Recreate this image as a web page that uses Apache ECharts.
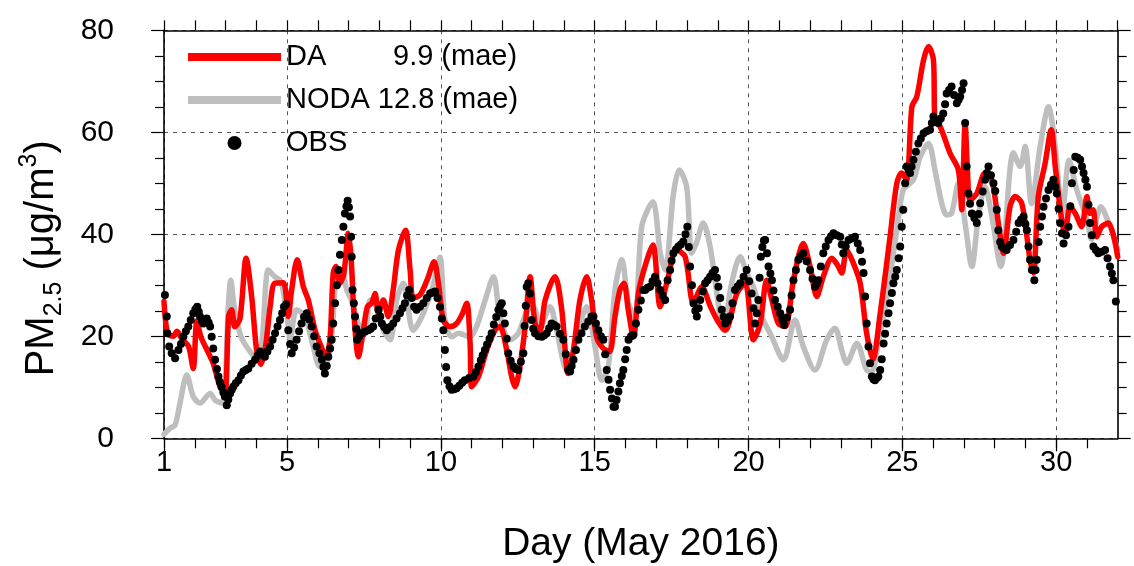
<!DOCTYPE html>
<html><head><meta charset="utf-8">
<script src="https://cdn.jsdelivr.net/npm/echarts@6/dist/echarts.min.js"></script>
<style>html,body{margin:0;padding:0;background:#fff}#c{width:1134px;height:566px}</style>
</head><body><div id="c"></div>
<script>
// ---- data: [day of May 2016, PM2.5 ug/m3] ----
const daData = [[1.00,26.8],[1.12,20.5],[1.30,20],[1.42,21],[1.60,19.3],[1.80,18],[1.95,13.7],[2.07,23],[2.20,19.9],[2.40,17.3],[2.60,14.7],[2.82,10.1],[2.98,8.8],[3.10,23.9],[3.20,25.2],[3.30,21.9],[3.47,23.5],[3.67,35.3],[3.85,27.8],[4.01,17.3],[4.15,14.5],[4.30,18],[4.45,25.8],[4.60,30.4],[4.88,30.5],[5.04,23.9],[5.15,29.1],[5.33,35],[5.53,29.7],[5.69,27.1],[5.91,21.2],[6.07,18.6],[6.27,16],[6.40,19.9],[6.50,32.4],[6.59,33.7],[6.72,30.4],[6.85,32.4],[6.99,40.2],[7.08,35.6],[7.18,23.9],[7.32,16],[7.48,21.2],[7.61,25.8],[7.75,26.5],[7.86,28.4],[7.97,24.5],[8.13,27.1],[8.29,23.9],[8.45,29.1],[8.62,36.9],[8.85,40.8],[9.00,33],[9.10,27.5],[9.32,28.1],[9.55,31],[9.78,34.6],[9.92,30.4],[10.08,23.2],[10.30,21.9],[10.51,22.5],[10.68,24.2],[10.84,26.5],[10.95,18.6],[11.00,10.1],[11.22,12.1],[11.49,17.3],[11.76,21.2],[11.92,21.9],[12.14,17.3],[12.30,12.1],[12.41,10.1],[12.57,14.1],[12.74,21.9],[12.90,31.7],[13.06,22.5],[13.22,21.2],[13.39,27.1],[13.71,31.7],[13.93,25.2],[14.14,12.7],[14.31,17.3],[14.52,27.1],[14.74,31.7],[14.90,27.1],[15.06,19.9],[15.28,17.6],[15.48,17],[15.66,23.9],[15.82,29.1],[15.95,30.4],[16.09,25.2],[16.26,19.9],[16.42,28.4],[16.60,33],[16.89,37.9],[17.13,25.8],[17.34,30.4],[17.67,36.9],[17.94,35.6],[18.21,26.5],[18.48,29.7],[18.75,26],[19.00,23],[19.24,21.2],[19.62,28.4],[19.89,30.4],[20.16,19.3],[20.38,22.5],[20.59,31],[20.76,27.1],[20.97,22.5],[21.19,21.9],[21.46,31],[21.78,38.2],[22.00,33.7],[22.22,27.8],[22.43,31.7],[22.71,35.3],[22.92,33.7],[23.03,32.4],[23.19,36.9],[23.41,34.3],[23.63,30.4],[23.84,20.6],[24.04,15.5],[24.28,24.5],[24.60,39.5],[24.82,50],[24.98,52],[25.14,50.7],[25.31,65],[25.47,67],[25.69,74.2],[25.85,76.8],[26.01,74.2],[26.06,62.4],[26.23,61.1],[26.55,55.9],[26.82,52.6],[26.93,44.8],[27.04,61.8],[27.12,52],[27.20,46.7],[27.42,48],[27.69,52],[27.91,50.7],[28.12,42.2],[28.29,36.3],[28.50,45.4],[28.67,47.4],[28.88,46.1],[29.05,39.5],[29.15,35],[29.26,32.4],[29.42,47.4],[29.64,53.9],[29.84,60.5],[29.97,53.3],[30.18,42.8],[30.29,40.2],[30.45,45.4],[30.62,44.1],[30.83,41.5],[31.00,47.4],[31.10,44.1],[31.20,44.8],[31.32,39.5],[31.48,41.5],[31.70,42.2],[32.00,35.6]];

const nodaData = [[1.00,0.8],[1.20,2],[1.36,2.6],[1.52,6.9],[1.74,12.4],[1.95,8.2],[2.17,6.9],[2.50,8.8],[2.66,7.5],[2.87,6.9],[2.98,9.5],[3.09,25.8],[3.17,31],[3.28,25.8],[3.50,20],[3.80,17],[4.05,15.5],[4.20,20],[4.39,33],[4.60,31.7],[4.80,30.8],[5.00,24],[5.10,19.5],[5.31,25.2],[5.58,23.9],[5.85,18],[6.07,14.1],[6.29,14.7],[6.45,19.9],[6.61,32.4],[6.77,33],[6.94,29.1],[7.10,27],[7.32,22.5],[7.53,21.2],[7.70,27.1],[7.91,25.8],[8.13,21.2],[8.35,19.3],[8.56,27.1],[8.78,30.4],[9.10,21.2],[9.43,24.5],[9.75,30],[9.97,35.5],[10.13,23.2],[10.35,19.9],[10.57,20.6],[10.95,19.9],[11.16,21.9],[11.44,27.1],[11.71,31.7],[11.92,23.9],[12.25,19.3],[12.52,20.6],[12.80,25],[13.01,25.8],[13.22,21.9],[13.55,25.8],[13.76,21.2],[14.09,13.4],[14.42,19.9],[14.74,25.8],[15.01,18],[15.23,11.4],[15.44,14],[15.66,29.1],[15.88,35],[16.10,26.5],[16.31,23.9],[16.53,41.5],[16.89,46.4],[17.13,36.3],[17.29,33],[17.56,48],[17.75,52.6],[17.99,49.3],[18.15,36.3],[18.30,38.2],[18.53,42.2],[18.75,37.6],[18.97,28.4],[19.18,21.2],[19.45,30.4],[19.73,35.6],[19.94,32.4],[20.16,29.7],[20.48,23.2],[20.75,20],[21.00,16.5],[21.14,15.4],[21.51,23.2],[21.78,18],[22.16,13.4],[22.54,19.3],[22.81,21.6],[23.03,17.3],[23.19,14.7],[23.52,18.6],[23.84,13.4],[24.00,13],[24.20,18],[24.50,28],[24.82,40.8],[25.03,48.7],[25.36,50.7],[25.58,55.2],[25.85,57.8],[26.06,52.6],[26.28,46.1],[26.44,43.8],[26.60,44.1],[26.82,50],[27.04,42.2],[27.26,33.7],[27.47,43.5],[27.69,49.3],[27.91,43.5],[28.20,33.7],[28.61,56],[28.83,53.3],[28.99,57.2],[29.20,46],[29.48,57.2],[29.75,65],[29.97,57.2],[30.20,44],[30.42,54.5],[30.67,48.7],[31.00,42.8],[31.15,39],[31.45,45.4],[31.75,41.5],[32.00,37]];

const obsData = [[1.03,28.1],[1.09,23.9],[1.11,20.6],[1.17,18],[1.25,16.7],[1.36,15.7],[1.47,17.3],[1.55,18.5],[1.63,19.9],[1.71,21],[1.79,21.9],[1.87,23.2],[1.95,24.5],[2.02,25.3],[2.08,25.8],[2.13,24.8],[2.17,23.9],[2.23,23],[2.28,22.5],[2.34,23.2],[2.39,23.5],[2.45,22.7],[2.50,21.9],[2.55,19.9],[2.60,17.6],[2.66,15.4],[2.72,13.6],[2.77,12.1],[2.82,11],[2.87,10.1],[2.93,9],[2.98,8.2],[3.04,6.5],[3.09,7.6],[3.15,8.8],[3.20,9.5],[3.25,10.1],[3.33,10.8],[3.42,11.4],[3.50,12.3],[3.58,13.1],[3.66,13.4],[3.74,13.7],[3.85,14.6],[3.96,15.4],[4.04,16.2],[4.12,17],[4.20,16.5],[4.28,16],[4.36,17],[4.45,18],[4.53,19.3],[4.61,20.6],[4.69,21.9],[4.77,23.2],[4.84,24.5],[4.90,25.8],[4.97,26.3],[5.04,21.2],[5.10,18.5],[5.15,16.7],[5.23,17.8],[5.31,19.3],[5.39,21],[5.47,22.5],[5.55,23.8],[5.64,24.5],[5.72,23.3],[5.80,21.9],[5.88,20],[5.96,18],[6.05,16.7],[6.13,15.4],[6.18,14],[6.23,12.7],[6.29,14.2],[6.34,16],[6.40,17.6],[6.45,19.3],[6.50,22.5],[6.56,26.5],[6.62,30],[6.67,33],[6.72,36],[6.78,38.9],[6.83,41.5],[6.88,44.1],[6.93,45.5],[6.97,46.6],[7.01,45.3],[7.05,43.5],[7.08,39.5],[7.10,35.6],[7.13,29.1],[7.17,26.5],[7.21,23.9],[7.25,21.5],[7.28,19.3],[7.35,20],[7.42,20.6],[7.53,20.9],[7.64,21.2],[7.72,21.5],[7.80,21.9],[7.88,23.5],[7.97,25.2],[8.03,23.9],[8.08,22.5],[8.16,21.8],[8.24,21.2],[8.35,21.8],[8.45,22.5],[8.56,23.5],[8.67,24.5],[8.75,25.5],[8.83,26.5],[8.90,28],[8.97,29.1],[9.05,27.5],[9.13,25.8],[9.21,25.2],[9.32,25.8],[9.43,26.5],[9.54,27.5],[9.65,28.4],[9.73,28.6],[9.81,28.8],[9.89,27.5],[9.97,25.8],[10.03,23.5],[10.08,21.2],[10.13,17.3],[10.17,14],[10.21,11.4],[10.28,10.2],[10.35,9.5],[10.43,9.6],[10.51,9.8],[10.60,10.3],[10.69,10.9],[10.78,11.4],[10.92,11.8],[11.06,12.1],[11.14,13],[11.22,14.1],[11.30,15.3],[11.36,16.3],[11.43,17.3],[11.50,18.4],[11.58,19.5],[11.65,20.6],[11.72,22.3],[11.80,23.8],[11.87,25.2],[11.93,26],[11.98,26.5],[12.03,24.5],[12.08,22.5],[12.14,19.5],[12.19,16.7],[12.27,15.2],[12.36,14.1],[12.44,13.6],[12.52,13.4],[12.60,15],[12.68,16.7],[12.72,22],[12.76,26],[12.79,29.7],[12.84,30.4],[12.90,28.4],[12.95,23.2],[13.00,21.5],[13.06,20.6],[13.17,20],[13.28,19.9],[13.36,20.2],[13.44,20.6],[13.52,21.6],[13.60,22.5],[13.68,22.2],[13.76,21.9],[13.87,20.5],[13.98,19.3],[14.06,16.5],[14.14,13.4],[14.20,13.1],[14.25,14.2],[14.31,15.4],[14.39,17.3],[14.47,19.3],[14.57,20.6],[14.68,21.9],[14.79,22.9],[14.90,23.9],[14.96,23.9],[15.04,22.5],[15.12,21.2],[15.20,20],[15.28,19.3],[15.34,16.5],[15.39,13.4],[15.45,11.5],[15.50,9.5],[15.56,7.8],[15.61,6.2],[15.66,6.2],[15.71,7.5],[15.77,9.2],[15.82,10.8],[15.88,12.2],[15.93,13.4],[15.99,15.5],[16.04,17.3],[16.10,19.3],[16.18,20],[16.26,20.3],[16.34,22.5],[16.42,25.2],[16.50,27],[16.58,29.1],[16.64,29.1],[16.72,29.5],[16.80,29.7],[16.88,30.8],[16.96,31.7],[17.04,30.4],[17.13,29.1],[17.21,28],[17.29,27.1],[17.37,31],[17.45,33],[17.50,34.8],[17.56,36.3],[17.64,37],[17.72,37.6],[17.80,38],[17.88,38.6],[17.95,40],[18.01,41.5],[18.06,37.5],[18.10,33.7],[18.16,30],[18.21,26.5],[18.27,25],[18.32,23.9],[18.38,25.5],[18.43,27.1],[18.51,28.8],[18.59,30.4],[18.67,31],[18.75,31.7],[18.83,32.4],[18.91,33],[18.97,31.5],[19.02,29.7],[19.08,27.5],[19.13,25.2],[19.19,23.8],[19.24,22.5],[19.32,23],[19.40,23.9],[19.48,26.5],[19.56,29.1],[19.65,29.8],[19.73,30.4],[19.84,31.7],[19.94,33],[20.02,30.8],[20.10,28.4],[20.16,25.5],[20.21,22.5],[20.27,24.5],[20.32,27.1],[20.36,31.5],[20.40,35.6],[20.45,37.5],[20.50,38.8],[20.54,38.9],[20.60,36.3],[20.65,33.7],[20.71,32.3],[20.76,31],[20.81,29],[20.86,27.1],[20.95,25.8],[21.03,24.5],[21.10,23.3],[21.16,22.2],[21.25,23.7],[21.35,25.2],[21.40,28],[21.46,31],[21.54,33],[21.62,35],[21.70,35.7],[21.78,36.3],[21.89,34.7],[22.00,33],[22.08,31.3],[22.16,29.7],[22.22,30.3],[22.27,31],[22.35,33.7],[22.43,36.3],[22.51,37.6],[22.60,38.9],[22.68,39.6],[22.76,40.2],[22.87,39.8],[22.98,39.5],[23.03,38],[23.08,36.3],[23.16,37.6],[23.25,38.9],[23.35,39.2],[23.46,39.5],[23.55,38.2],[23.63,36.9],[23.69,34.6],[23.74,32.4],[23.79,27.8],[23.84,22.5],[23.90,18],[23.95,14.7],[24.01,12.1],[24.06,11.6],[24.11,11.4],[24.17,11.8],[24.22,12.1],[24.28,13.4],[24.33,15.5],[24.39,18.6],[24.44,20.5],[24.49,22.5],[24.55,24.5],[24.60,26.5],[24.66,28.5],[24.71,30.4],[24.77,31.7],[24.82,33],[24.88,35.3],[24.93,37.6],[24.98,41.5],[25.03,44.8],[25.09,50],[25.14,53.3],[25.20,52.6],[25.25,52],[25.30,53.3],[25.36,54.6],[25.44,56.2],[25.52,57.8],[25.60,58.8],[25.69,59.8],[25.79,60.2],[25.90,60.5],[25.96,61.8],[26.01,63.1],[26.09,62.4],[26.17,61.8],[26.25,62.7],[26.33,63.7],[26.39,65.5],[26.44,67.6],[26.52,68.3],[26.60,69],[26.68,67.3],[26.77,65.7],[26.83,66.4],[26.88,67],[26.94,68.3],[26.99,69.6],[27.04,61.8],[27.09,53.3],[27.15,48],[27.20,46],[27.26,44.1],[27.34,43.2],[27.42,42.2],[27.48,44],[27.53,46.1],[27.61,48.4],[27.69,50.7],[27.75,52],[27.80,53.3],[27.88,51.6],[27.96,50],[28.02,48.5],[28.07,44.8],[28.12,40.8],[28.18,38.5],[28.23,37.6],[28.31,37.2],[28.39,36.9],[28.50,37.9],[28.61,38.9],[28.70,40.5],[28.78,42.2],[28.86,42.9],[28.94,43.5],[29.00,42],[29.05,40.8],[29.10,37.6],[29.15,35],[29.21,33],[29.29,31],[29.33,33],[29.37,35],[29.43,38.5],[29.48,41.5],[29.54,43.5],[29.59,45.4],[29.67,47],[29.75,48.7],[29.83,49.7],[29.91,50.7],[29.97,49.3],[30.02,48],[30.08,45],[30.13,42.2],[30.19,40.2],[30.24,38.2],[30.32,39.8],[30.40,41.5],[30.46,45.5],[30.51,50],[30.57,52.6],[30.62,55.2],[30.70,55],[30.78,54.6],[30.84,53.3],[30.89,52],[30.95,50.7],[31.00,49.3],[31.05,45.8],[31.10,42.2],[31.16,39.8],[31.21,37.6],[31.29,36.9],[31.37,36.3],[31.48,36.6],[31.59,36.9],[31.67,35.3],[31.75,33.7],[31.81,32.3],[31.86,31],[31.94,26.8]];

const xTickLabels = [1, 5, 10, 15, 20, 25, 30];
const legendNames = ['DA', 'NODA', 'OBS'];
const maeValues = { DA: '9.9', NODA: '12.8' };

const FONT = '"Liberation Sans", Arial, Helvetica, sans-serif';
const chart = echarts.init(document.getElementById('c'), null, { renderer: 'canvas' });

const gridLine = { show: true, lineStyle: { color: '#555', width: 1, type: [4, 5] } };
const axLine = { show: true, onZero: false, lineStyle: { color: '#000', width: 1.6 } };
const tickStyle = { color: '#000', width: 1.2 };

const option = {
  animation: false,
  backgroundColor: '#fff',
  grid: { left: 164, right: 16.3, top: 30.3, bottom: 127.7, containLabel: false, outerBoundsMode: 'none' },
  legend: {
    orient: 'vertical', left: 188, top: 42, padding: 0,
    itemWidth: 93, itemHeight: 14, itemGap: 13,
    data: [
      { name: 'DA', icon: 'path://M0,0L100,0L100,8.5L0,8.5Z' },
      { name: 'NODA', icon: 'path://M0,0L100,0L100,8.5L0,8.5Z' },
      { name: 'OBS', icon: 'circle' }
    ],
    textStyle: { fontFamily: FONT, fontSize: 29, color: '#000', lineHeight: 30,
      rich: { n: { width: 107, fontFamily: FONT, fontSize: 29, color: '#000' } } },
    formatter: function (name) {
      if (name === 'DA') return '{n|DA}' + maeValues.DA + ' (mae)';
      if (name === 'NODA') return 'NODA ' + maeValues.NODA + ' (mae)';
      return name;
    }
  },
  xAxis: [
    { type: 'value', position: 'bottom', min: 1, max: 32, interval: 1,
      axisLine: axLine,
      axisTick: { show: true, inside: false, length: 10, lineStyle: tickStyle },
      axisLabel: { show: true, margin: 10, fontFamily: FONT, fontSize: 29, color: '#000',
        showMinLabel: true, showMaxLabel: false, hideOverlap: false,
        formatter: v => (xTickLabels.indexOf(v) >= 0 ? String(v) : '') },
      splitLine: { show: false },
      name: 'Day (May 2016)', nameLocation: 'middle', nameGap: 86,
      nameTextStyle: { fontFamily: FONT, fontSize: 39, color: '#000' } },
    { type: 'value', position: 'bottom', min: 1, max: 32,
      axisLine: { show: false },
      axisTick: { show: true, inside: false, length: 13, lineStyle: tickStyle, customValues: xTickLabels },
      axisLabel: { show: false, customValues: xTickLabels },
      splitLine: gridLine },
    { type: 'value', position: 'top', min: 1, max: 32, interval: 1,
      axisLine: axLine,
      axisTick: { show: true, inside: false, length: 10, lineStyle: tickStyle },
      axisLabel: { show: false }, splitLine: { show: false } }
  ],
  yAxis: [
    { type: 'value', position: 'left', min: 0, max: 80, interval: 20,
      axisLine: axLine,
      axisTick: { show: true, inside: false, length: 13, lineStyle: tickStyle },
      minorTick: { show: true, splitNumber: 4, length: 9, lineStyle: tickStyle },
      axisLabel: { margin: 50, fontFamily: FONT, fontSize: 30, color: '#000' },
      splitLine: gridLine,
      name: '{a|PM}{s|2.5}{a| (μg/m}{p|3}{a|)}', nameLocation: 'middle', nameRotate: 90, nameGap: 97,
      nameTextStyle: { fontFamily: FONT, fontSize: 40, color: '#000', padding: [0, 48, 0, 0],
        rich: {
          a: { fontFamily: FONT, fontSize: 40, lineHeight: 50, color: '#000' },
          s: { fontFamily: FONT, fontSize: 25, lineHeight: 28, verticalAlign: 'bottom', color: '#000' },
          p: { fontFamily: FONT, fontSize: 25, lineHeight: 26, verticalAlign: 'top', color: '#000' }
        } } },
    { type: 'value', position: 'right', min: 0, max: 80, interval: 20,
      axisLine: axLine,
      axisTick: { show: true, inside: false, length: 13, lineStyle: tickStyle },
      minorTick: { show: true, splitNumber: 4, length: 9, lineStyle: tickStyle },
      axisLabel: { show: false }, splitLine: { show: false } }
  ],
  series: [
    { name: 'NODA', type: 'line', xAxisIndex: 0, yAxisIndex: 0, data: nodaData,
      symbol: 'none', showSymbol: false, smooth: 0.3, z: 2,
      color: '#bebebe',
      lineStyle: { color: '#bebebe', width: 5.5, cap: 'round', join: 'round' } },
    { name: 'DA', type: 'line', xAxisIndex: 0, yAxisIndex: 0, data: daData,
      symbol: 'none', showSymbol: false, smooth: 0.3, z: 3,
      color: '#ff0000',
      lineStyle: { color: '#ff0000', width: 5.5, cap: 'round', join: 'round' } },
    { name: 'OBS', type: 'scatter', xAxisIndex: 0, yAxisIndex: 0, data: obsData,
      symbol: 'circle', symbolSize: 8, z: 4,
      itemStyle: { color: '#000', opacity: 1 } }
  ]
};
chart.setOption(option);
</script>
</body></html>
